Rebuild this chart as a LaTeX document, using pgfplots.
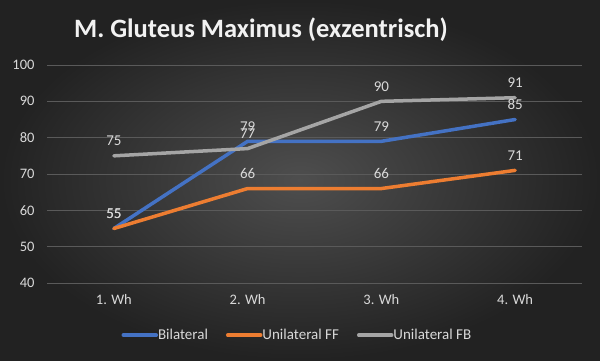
\documentclass[border=0pt]{standalone}
\usepackage{pgfplots}
\pgfplotsset{compat=1.18}
\usepackage{fontspec}
\setmainfont{Carlito}
\definecolor{cblue}{HTML}{4472C4}
\definecolor{corange}{HTML}{ED7D31}
\definecolor{cgray}{HTML}{A5A5A5}
\definecolor{txt}{HTML}{D9D9D9}
\definecolor{gridc}{HTML}{5A5A5A}
\pgfplotsset{
  every tick label/.append style={font=\fontsize{14.5}{17}\selectfont, text=txt},
  every x tick label/.append style={yshift=-8pt},
  every y tick label/.append style={xshift=-9pt},
}
\begin{document}
\begin{tikzpicture}
\useasboundingbox (0,0) rectangle (600pt,360pt);
\shade[inner color={rgb,255:red,78;green,78;blue,78}, outer color={rgb,255:red,34;green,34;blue,34}] (0,0) rectangle (600pt,360pt);
\node[font=\fontsize{26.5}{30}\selectfont\bfseries, text={rgb,255:red,242;green,242;blue,242}] at (261pt,330pt) {M. Gluteus Maximus (exzentrisch)};
\begin{axis}[
  /pgf/number format/assume math mode=true,
  at={(47pt,77pt)}, anchor=south west,
  width=535pt, height=218pt, scale only axis,
  xmin=0.5, xmax=4.5, ymin=40, ymax=100,
  xtick={1,2,3,4}, xticklabels={1. Wh,2. Wh,3. Wh,4. Wh},
  ytick={40,50,60,70,80,90,100},
  ymajorgrids, grid style={gridc, line width=0.8pt},
  axis line style={draw=none}, major tick length=0pt,
  legend columns=3,
  legend style={draw=none, fill=none, text=txt, font=\fontsize{15}{17}\selectfont,
    at={(0.468,-0.239)}, anchor=center, /tikz/every even column/.append style={column sep=16pt},
    /tikz/every odd column/.append style={column sep=-2pt}},
  legend image code/.code={\draw[#1, line width=3.5pt, line cap=round] (0pt,0pt) -- (33pt,0pt);},
  nodes near coords,
  nodes near coords style={font=\fontsize{15}{17}\selectfont, text=txt, anchor=south, yshift=5pt},
  every axis plot/.append style={line width=3.5pt, line cap=round, line join=round, mark=none},
  clip=false,
]
\addplot[cblue] coordinates {(1,55) (2,79) (3,79) (4,85)};
\addlegendentry{Bilateral}
\addplot[corange] coordinates {(1,55) (2,66) (3,66) (4,71)};
\addlegendentry{Unilateral FF}
\addplot[cgray] coordinates {(1,75) (2,77) (3,90) (4,91)};
\addlegendentry{Unilateral FB}
\end{axis}
\end{tikzpicture}
\end{document}
